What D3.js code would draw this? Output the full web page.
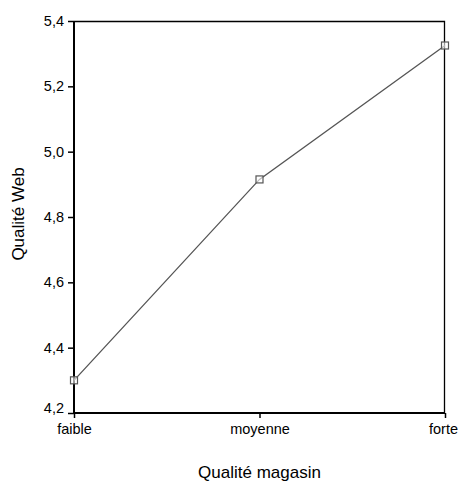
<!DOCTYPE html>
<html>
<head>
<meta charset="utf-8">
<script src="https://cdn.jsdelivr.net/npm/d3@7"></script>
<style>
  body { margin: 0; background: #fff; }
  text { font-family: "Liberation Sans", Arial, sans-serif; fill: #000; }
</style>
</head>
<body>
<div id="chart"></div>
<script>
// data
const categories = ["faible", "moyenne", "forte"];
const values = [4.30, 4.915, 5.325];
const yTicks = [4.2, 4.4, 4.6, 4.8, 5.0, 5.2, 5.4];

const W = 458, H = 484;
const margin = { top: 21, right: 13, bottom: 71, left: 74 };
const width = W - margin.left - margin.right;
const height = H - margin.top - margin.bottom;

const svg = d3.select("#chart").append("svg")
  .attr("width", W)
  .attr("height", H);

const g = svg.append("g")
  .attr("transform", `translate(${margin.left},${margin.top})`);

const xScale = d3.scalePoint()
  .domain(categories)
  .range([0, width]);

const yScale = d3.scaleLinear()
  .domain([4.2, 5.4])
  .range([height, 0]);

const fmt = d => d3.format(".1f")(d).replace(".", ",");

// top and right frame lines
g.append("path")
  .attr("d", `M0,0.5H${width - 0.5}V${height}`)
  .attr("fill", "none")
  .attr("stroke", "#000")
  .attr("stroke-width", 1.3);

// y axis
const yAxis = g.append("g")
  .call(d3.axisLeft(yScale).tickValues(yTicks).tickFormat(fmt).tickSize(6).tickPadding(4));
yAxis.select(".domain").attr("stroke-width", 2).attr("d", `M0,0V${height}`);
yAxis.selectAll(".tick line").attr("stroke-width", 1.5);
yAxis.selectAll("text")
  .style("font-size", "14.5px")
  .attr("dy", d => d === 4.2 ? "-0.05em" : "0.32em");

// x axis
const xAxis = g.append("g")
  .attr("transform", `translate(0,${height})`)
  .call(d3.axisBottom(xScale).tickSize(5).tickPadding(6));
xAxis.select(".domain").attr("stroke-width", 2).attr("d", `M0,0H${width}`);
xAxis.selectAll(".tick line").attr("stroke-width", 1.5);
xAxis.selectAll("text").style("font-size", "14.5px");
// keep the last label inside the window
xAxis.selectAll("text")
  .filter(d => d === "forte")
  .attr("text-anchor", "end")
  .attr("x", 12.5);

// line
const line = d3.line()
  .x((d, i) => xScale(categories[i]))
  .y(d => yScale(d));

g.append("path")
  .datum(values)
  .attr("d", line)
  .attr("fill", "none")
  .attr("stroke", "#555")
  .attr("stroke-width", 1.3);

// markers
g.selectAll("rect.marker")
  .data(values)
  .join("rect")
  .attr("class", "marker")
  .attr("x", (d, i) => xScale(categories[i]) - 3.5)
  .attr("y", d => yScale(d) - 3.5)
  .attr("width", 7)
  .attr("height", 7)
  .attr("fill", "#fff")
  .attr("fill-opacity", 0.6)
  .attr("stroke", "#555")
  .attr("stroke-width", 1.2);

// axis titles
svg.append("text")
  .attr("x", margin.left + width / 2)
  .attr("y", 478)
  .attr("text-anchor", "middle")
  .style("font-size", "17px")
  .text("Qualité magasin");

svg.append("text")
  .attr("transform", `translate(24,${margin.top + height / 2 - 3}) rotate(-90)`)
  .attr("text-anchor", "middle")
  .style("font-size", "17px")
  .text("Qualité Web");
</script>
</body>
</html>
